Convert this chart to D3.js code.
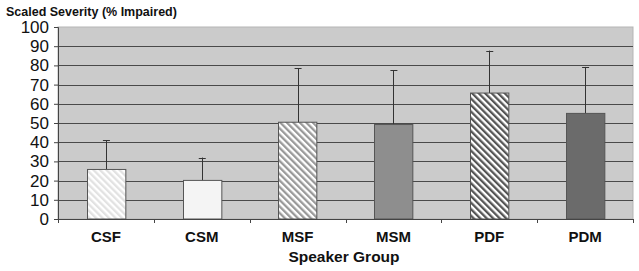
<!DOCTYPE html>
<html lang="en">
<head>
  <meta charset="UTF-8">
  <title>Scaled Severity</title>
  <script src="https://d3js.org/d3.v7.min.js"></script>
  <style>
    body { margin: 0; background: #fff; }
    text { font-family: "Liberation Sans", Arial, sans-serif; }
  </style>
</head>
<body>
  <div id="chart"></div>
  <script>
    // chart data
    const groups = ['CSF', 'CSM', 'MSF', 'MSM', 'PDF', 'PDM'];
    const means = [25.8, 20.1, 50.4, 49.2, 65.6, 55];
    const errTop = [41, 32, 78.5, 77.4, 87.7, 79.2];
    const yTicks = [0, 10, 20, 30, 40, 50, 60, 70, 80, 90, 100];

    const W = 639, H = 271;
    const mLeft = 58, mRight = 633, mTop = 27, mBottom = 219;

    const svg = d3.select('#chart').append('svg')
      .attr('width', W).attr('height', H);

    // hatch patterns
    const defs = svg.append('defs');
    function hatch(id, bg, fg) {
      const p = defs.append('pattern')
        .attr('id', id)
        .attr('patternUnits', 'userSpaceOnUse')
        .attr('width', 4.6).attr('height', 10)
        .attr('patternTransform', 'rotate(-45)');
      p.append('rect').attr('width', 4.6).attr('height', 10).attr('fill', bg);
      p.append('rect').attr('width', 2.3).attr('height', 10).attr('fill', fg);
    }
    hatch('h1', '#ffffff', '#e2e2e2');
    hatch('h2', '#ffffff', '#999999');
    hatch('h3', '#ffffff', '#555555');

    const fills = ['url(#h1)', '#f4f4f4', 'url(#h2)', '#8e8e8e', 'url(#h3)', '#6b6b6b'];

    const x = d3.scaleBand().domain(groups).range([mLeft, mRight]).paddingInner(0).paddingOuter(0);
    const y = d3.scaleLinear().domain([0, 100]).range([mBottom, mTop]);

    // plot background
    svg.append('rect')
      .attr('x', mLeft).attr('y', mTop)
      .attr('width', mRight - mLeft).attr('height', mBottom - mTop)
      .attr('fill', '#cbcbcb')
      .attr('stroke', '#b5b5b5');

    // gridlines
    svg.append('g').selectAll('line')
      .data(yTicks.filter(d => d > 0 && d < 100))
      .join('line')
      .attr('x1', mLeft).attr('x2', mRight)
      .attr('y1', d => Math.round(y(d)) + 0.5).attr('y2', d => Math.round(y(d)) + 0.5)
      .attr('stroke', '#4a4a4a').attr('stroke-width', 1);

    // error bars (upper only)
    const cx = d => x(d) + x.bandwidth() / 2;
    const eb = svg.append('g').attr('stroke', '#333').attr('stroke-width', 1);
    groups.forEach((g, i) => {
      eb.append('line')
        .attr('x1', Math.round(cx(g)) + 0.5).attr('x2', Math.round(cx(g)) + 0.5)
        .attr('y1', y(means[i])).attr('y2', y(errTop[i]));
      eb.append('line')
        .attr('x1', cx(g) - 3).attr('x2', cx(g) + 4)
        .attr('y1', Math.round(y(errTop[i])) + 0.5).attr('y2', Math.round(y(errTop[i])) + 0.5);
    });

    // bars
    const bw = x.bandwidth() * 0.4;
    svg.append('g').selectAll('rect')
      .data(groups)
      .join('rect')
      .attr('x', d => Math.round(cx(d) - bw / 2) + 0.5)
      .attr('y', (d, i) => y(means[i]))
      .attr('width', bw)
      .attr('height', (d, i) => y(0) - y(means[i]))
      .attr('fill', (d, i) => fills[i])
      .attr('stroke', '#555').attr('stroke-width', 1);

    // y axis
    const yAxis = svg.append('g')
      .attr('transform', `translate(${mLeft},0)`)
      .call(d3.axisLeft(y).tickValues(yTicks).tickSize(4).tickPadding(5));
    yAxis.select('.domain').attr('stroke', '#444');
    yAxis.selectAll('line').attr('stroke', '#444');
    yAxis.selectAll('text').attr('font-size', 17).attr('fill', '#111')
      .attr('font-family', '"Liberation Sans", Arial, sans-serif');

    // x axis
    const xAxis = svg.append('g')
      .attr('transform', `translate(0,${mBottom})`)
      .call(d3.axisBottom(x).tickSize(0).tickPadding(12));
    xAxis.select('.domain').attr('stroke', '#444');
    xAxis.selectAll('text').attr('font-size', 15).attr('font-weight', 'bold').attr('fill', '#111')
      .attr('font-family', '"Liberation Sans", Arial, sans-serif');
    // boundary ticks between categories
    svg.append('g').selectAll('line')
      .data(groups.map(g => x(g)).concat([mRight]))
      .join('line')
      .attr('x1', d => Math.round(d) + 0.5).attr('x2', d => Math.round(d) + 0.5)
      .attr('y1', mBottom).attr('y2', mBottom + 4)
      .attr('stroke', '#444');

    // titles
    svg.append('text')
      .attr('x', 6).attr('y', 16)
      .attr('font-size', 12.5).attr('font-weight', 'bold').attr('fill', '#111')
      .text('Scaled Severity (% Impaired)');
    svg.append('text')
      .attr('x', 344).attr('y', 262)
      .attr('text-anchor', 'middle')
      .attr('font-size', 15.5).attr('font-weight', 'bold').attr('fill', '#111')
      .text('Speaker Group');
  </script>
</body>
</html>
